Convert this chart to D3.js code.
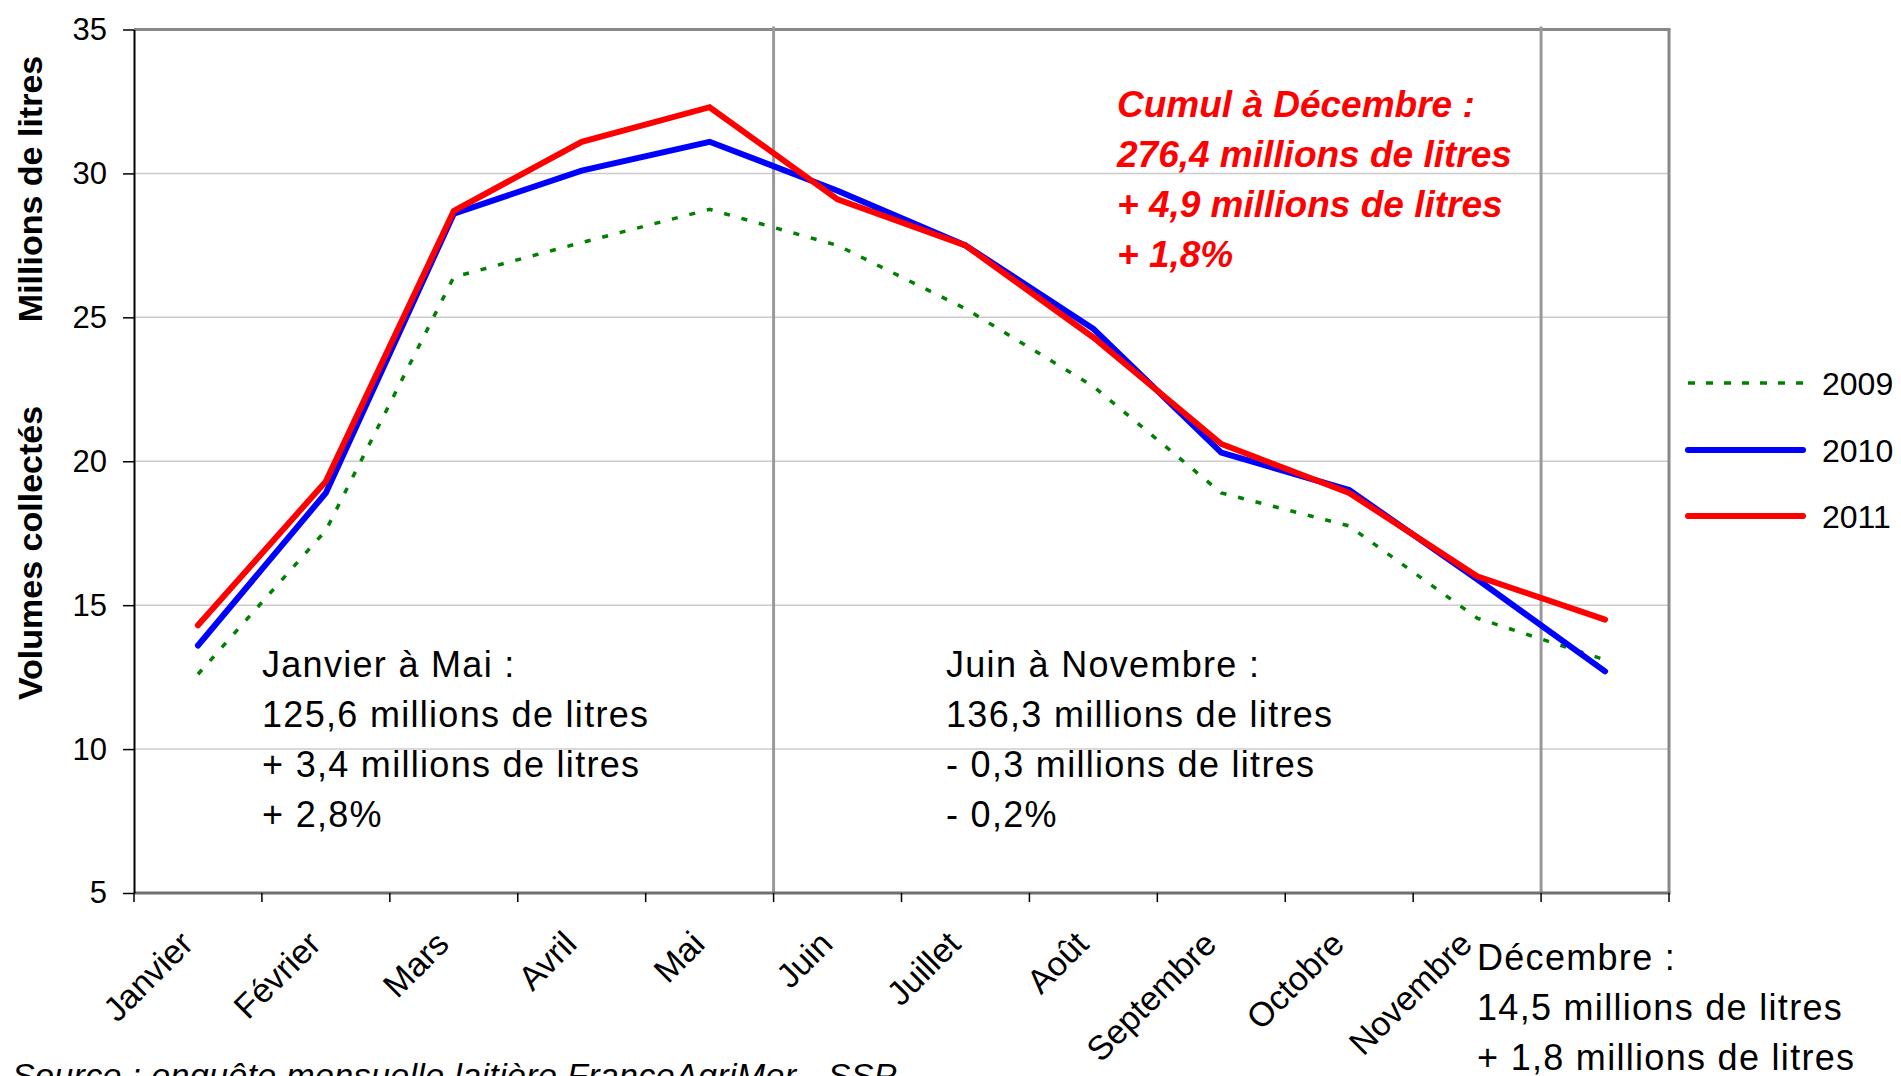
<!DOCTYPE html>
<html>
<head>
<meta charset="utf-8">
<script src="https://cdn.jsdelivr.net/npm/d3@7"></script>
<style>
  html, body { margin: 0; padding: 0; background: #fff; }
  svg { display: block; }
  text { font-family: "Liberation Sans", Arial, sans-serif; }
</style>
</head>
<body>
<div id="chart"></div>
<script>
// ---- Data ----
const months = ["Janvier","Février","Mars","Avril","Mai","Juin","Juillet","Août","Septembre","Octobre","Novembre","Décembre"];
const axisLabels = ["Janvier","Février","Mars","Avril","Mai","Juin","Juillet","Août","Septembre","Octobre","Novembre"];
const v2009 = [12.6, 17.6, 26.4, 27.6, 28.75, 27.5, 25.3, 22.6, 18.9, 17.75, 14.55, 13.1];
const v2010 = [13.6, 18.9, 28.6, 30.1, 31.1, 29.4, 27.5, 24.6, 20.3, 19.0, 15.9, 12.7];
const v2011 = [14.3, 19.3, 28.7, 31.1, 32.3, 29.1, 27.5, 24.3, 20.6, 18.9, 16.0, 14.5];
const seriesNames = ["2009", "2010", "2011"];
const yTicks = [5, 10, 15, 20, 25, 30, 35];
const dividerMonths = ["Juin", "Décembre"];
const yTitleParts = ["Volumes collectés", "Millions de litres"];
const noteJanMai = ["Janvier à Mai :", "125,6 millions de litres", "+ 3,4 millions de litres", "+ 2,8%"];
const noteJuinNov = ["Juin à Novembre :", "136,3 millions de litres", "- 0,3 millions de litres", "- 0,2%"];
const noteDec = ["Décembre :", "14,5 millions de litres", "+ 1,8 millions de litres"];
const noteCumul = ["Cumul à Décembre :", "276,4 millions de litres", "+ 4,9 millions de litres", "+ 1,8%"];
const sourceText = "Source : enquête mensuelle laitière FranceAgriMer - SSP";

const W = 1901, H = 1076;
const L = 134, R = 1669, T = 29.5, B = 893;

const svg = d3.select("#chart").append("svg").attr("width", W).attr("height", H);

const x = d3.scaleBand().domain(months).range([L, R]).paddingInner(0).paddingOuter(0);
const cx = m => x(m) + x.bandwidth() / 2;
const y = d3.scaleLinear().domain([5, 35]).range([B, T]);

// gridlines
svg.append("g").selectAll("line").data(yTicks.filter(t => t > 5 && t < 35)).join("line")
  .attr("x1", L).attr("x2", R).attr("y1", d => y(d)).attr("y2", d => y(d))
  .attr("stroke", "#cccccc").attr("stroke-width", 1.5);

// top & right frame
svg.append("line").attr("x1", L).attr("x2", R + 1.5).attr("y1", y(35)).attr("y2", y(35))
  .attr("stroke", "#888888").attr("stroke-width", 3);
svg.append("line").attr("x1", R).attr("x2", R).attr("y1", y(35)).attr("y2", y(5))
  .attr("stroke", "#888888").attr("stroke-width", 3);

// vertical dividers
svg.append("g").selectAll("line").data(dividerMonths).join("line")
  .attr("x1", d => x(d)).attr("x2", d => x(d)).attr("y1", T - 3).attr("y2", B)
  .attr("stroke", "#999999").attr("stroke-width", 3);

// bottom axis line + ticks at category boundaries
svg.append("line").attr("x1", L).attr("x2", R + 1.5).attr("y1", B).attr("y2", B)
  .attr("stroke", "#707070").attr("stroke-width", 3);
const bounds = months.map(m => x(m)).concat([x.range()[1]]);
svg.append("g").selectAll("line").data(bounds).join("line")
  .attr("x1", d => d).attr("x2", d => d).attr("y1", B).attr("y2", B + 9)
  .attr("stroke", "#000").attr("stroke-width", 1.5);

// y axis
const yAxis = d3.axisLeft(y).tickValues(yTicks).tickSize(11).tickSizeOuter(0).tickPadding(16);
const gy = svg.append("g").attr("transform", `translate(${L},0)`).call(yAxis);
gy.select(".domain").attr("stroke", "#000").attr("stroke-width", 2);
gy.selectAll(".tick line").attr("stroke", "#000").attr("stroke-width", 1.5);
gy.selectAll(".tick text").attr("font-size", 31).attr("fill", "#000")
  .attr("font-family", "'Liberation Sans', Arial, sans-serif");

// x labels (December is labelled by the annotation instead)
svg.append("g").selectAll("text").data(axisLabels).join("text")
  .attr("transform", d => `translate(${cx(d) - 3},${B + 53}) rotate(-45)`)
  .attr("text-anchor", "end")
  .attr("font-size", 34)
  .attr("fill", "#000")
  .text(d => d);

// lines
const line = d3.line().x((d, i) => cx(months[i])).y(d => y(d));
svg.append("path").datum(v2009).attr("d", line)
  .attr("fill", "none").attr("stroke", "#008000").attr("stroke-width", 3.5)
  .attr("stroke-dasharray", "6,12");
svg.append("path").datum(v2010).attr("d", line)
  .attr("fill", "none").attr("stroke", "#0000ff").attr("stroke-width", 6)
  .attr("stroke-linecap", "round");
svg.append("path").datum(v2011).attr("d", line)
  .attr("fill", "none").attr("stroke", "#ff0000").attr("stroke-width", 6)
  .attr("stroke-linecap", "round");

// legend
const legY = [383, 450, 516];
const legStyle = [
  {stroke: "#008000", w: 3.5, dash: "7,11", cap: "butt"},
  {stroke: "#0000ff", w: 6, dash: null, cap: "round"},
  {stroke: "#ff0000", w: 6, dash: null, cap: "round"}
];
const leg = svg.append("g").selectAll("g").data(seriesNames).join("g");
leg.append("line")
  .attr("x1", 1688).attr("x2", (d, i) => i === 0 ? 1808 : 1803)
  .attr("y1", (d, i) => legY[i]).attr("y2", (d, i) => legY[i])
  .attr("stroke", (d, i) => legStyle[i].stroke)
  .attr("stroke-width", (d, i) => legStyle[i].w)
  .attr("stroke-dasharray", (d, i) => legStyle[i].dash)
  .attr("stroke-linecap", (d, i) => legStyle[i].cap);
leg.append("text")
  .attr("x", 1822).attr("y", (d, i) => legY[i] + 11.5)
  .attr("font-size", 32).attr("fill", "#000")
  .text(d => d);

// y title
svg.append("text")
  .attr("transform", `translate(42,${553}) rotate(-90)`)
  .attr("text-anchor", "middle").attr("font-size", 34).attr("font-weight", "bold")
  .text(yTitleParts[0]);
svg.append("text")
  .attr("transform", `translate(42,${189}) rotate(-90)`)
  .attr("text-anchor", "middle").attr("font-size", 34).attr("font-weight", "bold")
  .text(yTitleParts[1]);

// annotations
function block(lines, x0, y0, opts) {
  const g = svg.append("g");
  g.selectAll("text").data(lines).join("text")
    .attr("x", x0).attr("y", (d, i) => y0 + i * 50)
    .attr("font-size", opts.size)
    .attr("font-weight", opts.weight || "normal")
    .attr("font-style", opts.style || "normal")
    .attr("letter-spacing", opts.ls || 0)
    .attr("fill", opts.fill || "#000")
    .text(d => d);
}
block(noteJanMai, 262, 677, {size: 36, ls: 1.3});
block(noteJuinNov, 946, 677, {size: 36, ls: 1.3});
block(noteDec, 1477, 970, {size: 36, ls: 1.3});
block(noteCumul, 1117, 117, {size: 37, weight: "bold", style: "italic", fill: "#ff0000"});

// source
svg.append("text").attr("x", 12).attr("y", 1087)
  .attr("font-size", 34).attr("font-style", "italic").attr("fill", "#000")
  .attr("letter-spacing", 0.35)
  .text(sourceText);
</script>
</body>
</html>
